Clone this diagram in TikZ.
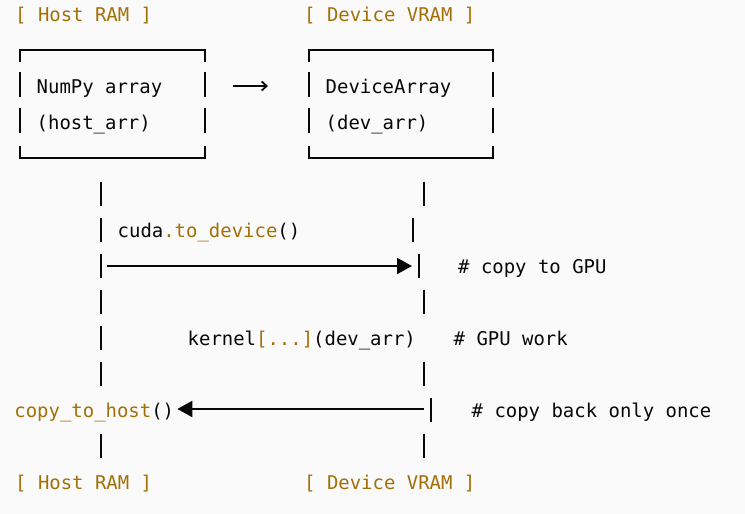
\documentclass[tikz,border=0pt]{standalone}
\usepackage{fontspec}
\usetikzlibrary{arrows.meta}
\newfontfamily\codefont{DejaVu Sans Mono}
\definecolor{codebg}{RGB}{250,250,250}
\definecolor{codeink}{RGB}{8,8,8}
\definecolor{hlgold}{RGB}{163,112,8}

\tikzset{
  code/.style={font=\codefont\fontsize{18.95}{23}\selectfont, text=codeink,
               anchor=base west, inner sep=0pt},
  gold/.style={code, text=hlgold},
  rule/.style={draw=codeink, line width=2pt},
  bigarrow/.style={rule, -{Triangle[length=15pt,width=16pt]}},
  smallarrow/.style={rule, line width=1.8pt, -{Straight Barb[length=5pt,width=9pt]}},
}

\begin{document}
\begin{tikzpicture}[x=1pt,y=-1pt]

\fill[codebg] (0,0) rectangle (745,514);
\useasboundingbox (0,0) rectangle (745,514);

%\draw[help lines,step=36] (0,0) grid (745,514);

% memory labels
\node[gold] (hostTop) at (15,21)  {[ Host RAM ]};
\node[gold] (devTop)  at (304,21) {[ Device VRAM ]};
\node[gold] (hostBot) at (15,489) {[ Host RAM ]};
\node[gold] (devBot)  at (304,489) {[ Device VRAM ]};

% the two arrays
\draw[rule] (20,62) -- (20,50) -- (205,50) -- (205,62);
\draw[rule] (20,146) -- (20,158) -- (205,158) -- (205,146);
\draw[rule] (309,62) -- (309,50) -- (493,50) -- (493,62);
\draw[rule] (309,146) -- (309,158) -- (493,158) -- (493,146);
\foreach \x in {20,205,309,493}
  \foreach \y in {84.5,120.5}
    \draw[rule] (\x,\y-12.5) -- (\x,\y+12.5);

\node[code] (hostArr)  at (36.5,93)   {NumPy array};
\node[code] (hostName) at (36.5,129)  {(host\_arr)};
\node[code] (devArr)   at (325.5,93)  {DeviceArray};
\node[code] (devName)  at (325.5,129) {(dev\_arr)};

\coordinate (linkFrom) at (233,86);
\coordinate (linkTo)   at (268,86);
\draw[smallarrow] (linkFrom) -- (linkTo);

% life lines
\foreach \y in {193.5,229.5,265.5,301.5,337.5,373.5,445.5}
  \draw[rule] (101,\y-12) -- (101,\y+12);
\foreach \x/\y in {424/193.5,413/229.5,419/265.5,424/301.5,424/373.5,431/409.5,424/445.5}
  \draw[rule] (\x,\y-12) -- (\x,\y+12);

% to the device
\node[code] (send) at (117.5,237) {cuda\textcolor{hlgold}{.to\_device}()};
\coordinate (sendFrom) at (107,266);
\coordinate (sendTo)   at (412,266);
\draw[bigarrow] (sendFrom) -- (sendTo);
\node[code] (sendNote) at (458,273) {\# copy to GPU};

% on the device
\node[code] (kern)     at (187.5,345) {kernel\textcolor{hlgold}{[...]}(dev\_arr)};
\node[code] (kernNote) at (453.5,345) {\# GPU work};

% back to the host
\node[code] (cth) at (14.2,417) {\textcolor{hlgold}{copy\_to\_host}()};
\coordinate (backFrom) at (424,409);
\coordinate (backTo)   at ([xshift=3pt]cth.east);
\draw[bigarrow] (backFrom) -- (backTo |- backFrom);
\node[code] (backNote) at (471.5,417) {\# copy back only once};

\end{tikzpicture}
\end{document}
